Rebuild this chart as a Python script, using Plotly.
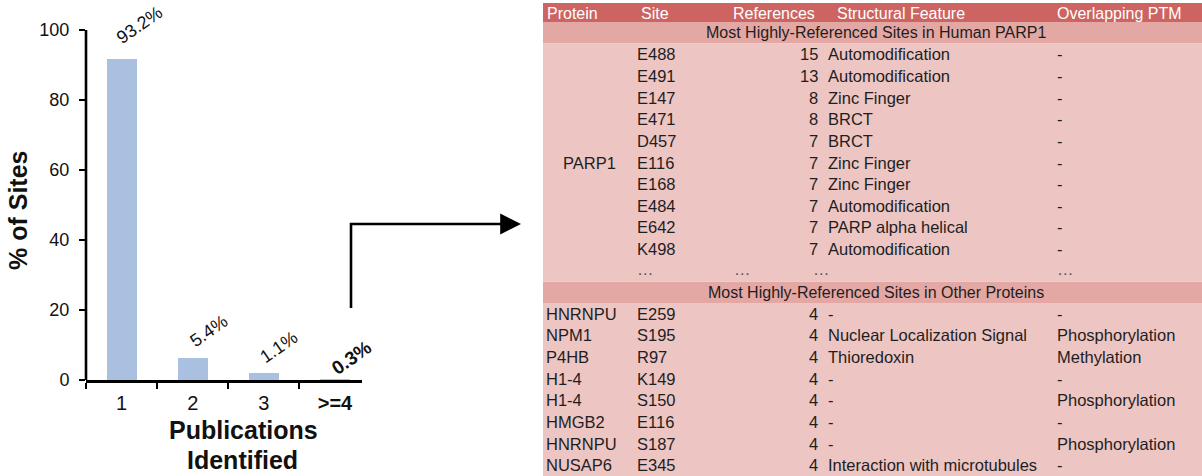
import plotly.graph_objects as go

# ---------------- data ----------------
categories = ["1", "2", "3", ">=4"]
category_ticktext = ["1", "2", "3", "<b>>=4</b>"]
pct_sites = [91.7, 6.4, 2.1, 0.3]
bar_labels = ["93.2%", "5.4%", "1.1%", "<b>0.3%</b>"]
y_ticks = [0, 20, 40, 60, 80, 100]

header = ["Protein", "Site", "References", "Structural Feature", "Overlapping PTM"]
subheader_parp1 = "Most Highly-Referenced Sites in Human PARP1"
subheader_other = "Most Highly-Referenced Sites in Other Proteins"

parp1_name = "PARP1"
parp1_sites = ["E488", "E491", "E147", "E471", "D457", "E116", "E168", "E484", "E642", "K498"]
parp1_refs = [15, 13, 8, 8, 7, 7, 7, 7, 7, 7]
parp1_features = ["Automodification", "Automodification", "Zinc Finger", "BRCT", "BRCT",
                  "Zinc Finger", "Zinc Finger", "Automodification", "PARP alpha helical",
                  "Automodification"]
parp1_ptm = ["-", "-", "-", "-", "-", "-", "-", "-", "-", "-"]
ellipsis_row = ["…", "…", "…", "…"]

other_proteins = ["HNRNPU", "NPM1", "P4HB", "H1-4", "H1-4", "HMGB2", "HNRNPU", "NUSAP6"]
other_sites = ["E259", "S195", "R97", "K149", "S150", "E116", "S187", "E345"]
other_refs = [4, 4, 4, 4, 4, 4, 4, 4]
other_features = ["-", "Nuclear Localization Signal", "Thioredoxin", "-", "-", "-", "-",
                  "Interaction with microtubules"]
other_ptm = ["-", "Phosphorylation", "Methylation", "-", "Phosphorylation", "-",
             "Phosphorylation", "-"]

# ---------------- styling ----------------
W, H = 1202, 476
FONT = "Liberation Sans, Arial, Helvetica, sans-serif"
BAR_COLOR = "#a9c0e0"
HEAD_COLOR = "#cd6461"
SUB_COLOR = "#e3a7a4"
BODY_COLOR = "#edc5c3"
TXT = "#1e1e1e"
TFS = 16.5  # table body font size
HFS = 16    # table header font size

Y_BOTTOM_PX, Y_TOP_PX = 380, 30          # pixel rows of 0 % and 100 %
Y_MAX = 100 * Y_BOTTOM_PX / (Y_BOTTOM_PX - Y_TOP_PX)  # room above 100 for labels


def px(x):
    return x / W


def py(y):
    return 1 - y / H


fig = go.Figure()

# ---------------- bar chart ----------------
fig.add_trace(go.Bar(
    x=categories, y=pct_sites, marker_color=BAR_COLOR, marker_line_width=0,
    width=0.42, xaxis="x", yaxis="y", showlegend=False, hoverinfo="skip"))

label_shift_x = [18, 16, 15, 17]
label_shift_y = [34, 27, 26, 21]
for i, (val, lab) in enumerate(zip(pct_sites, bar_labels)):
    big = i == len(pct_sites) - 1
    fig.add_annotation(x=i, y=val, xref="x", yref="y", text=lab, showarrow=False,
                       textangle=-35, xanchor="center", yanchor="middle",
                       xshift=label_shift_x[i], yshift=label_shift_y[i],
                       font=dict(family=FONT, size=19 if big else 18, color="#111"))

# y axis line only from 0 to 100
fig.add_shape(type="line", xref="paper", yref="y", x0=px(86), x1=px(86),
              y0=0, y1=max(y_ticks), line=dict(color="black", width=2.6))

# axis titles
fig.add_annotation(x=px(18), y=py(211), xref="paper", yref="paper", text="<b>% of Sites</b>",
                   textangle=-90, showarrow=False, xanchor="center", yanchor="middle",
                   font=dict(family=FONT, size=25, color="#111"))
fig.add_annotation(x=px(244), y=py(430), xref="paper", yref="paper", text="<b>Publications</b>",
                   showarrow=False, xanchor="center", yanchor="middle",
                   font=dict(family=FONT, size=25, color="#111"))
fig.add_annotation(x=px(243), y=py(460), xref="paper", yref="paper", text="<b>Identified</b>",
                   showarrow=False, xanchor="center", yanchor="middle",
                   font=dict(family=FONT, size=25, color="#111"))

# arrow from chart to table
fig.add_shape(type="line", xref="paper", yref="paper", x0=px(351), x1=px(351),
              y0=py(308), y1=py(222.8), line=dict(color="black", width=2.6))
fig.add_annotation(x=px(521), y=py(224), xref="paper", yref="paper", text="",
                   showarrow=True, ax=-171, ay=0, axref="pixel", ayref="pixel",
                   arrowhead=2, arrowsize=1.6, arrowwidth=2.6, arrowcolor="black", standoff=0)

# ---------------- table ----------------
HEADER_TOP, HEADER_BOTTOM, ROW_H = 3, 22, 21.62


def row_top(k):
    return HEADER_BOTTOM + (k - 1) * ROW_H


def row_mid(k):
    return row_top(k) + ROW_H / 2


X0, X1 = 543, 1202

fig.add_shape(type="rect", xref="x2", yref="y2", x0=X0, x1=X1, y0=HEADER_TOP, y1=HEADER_BOTTOM,
              fillcolor=HEAD_COLOR, line_width=0, layer="below")
n_parp = len(parp1_sites)
k_sub1 = 1
k_parp = list(range(2, 2 + n_parp))
k_ell = 2 + n_parp
k_sub2 = k_ell + 1
k_other = list(range(k_sub2 + 1, k_sub2 + 1 + len(other_sites)))
for k in (k_sub1, k_sub2):
    fig.add_shape(type="rect", xref="x2", yref="y2", x0=X0, x1=X1, y0=row_top(k),
                  y1=row_top(k + 1), fillcolor=SUB_COLOR, line_width=0, layer="below")
fig.add_shape(type="rect", xref="x2", yref="y2", x0=X0, x1=X1, y0=row_top(k_parp[0]),
              y1=row_top(k_ell + 1), fillcolor=BODY_COLOR, line_width=0, layer="below")
fig.add_shape(type="rect", xref="x2", yref="y2", x0=X0, x1=X1, y0=row_top(k_other[0]),
              y1=row_top(k_other[-1] + 1), fillcolor=BODY_COLOR, line_width=0, layer="below")


def cell(x, y, text, anchor="left", color=TXT, size=TFS):
    fig.add_annotation(x=x, y=y, xref="x2", yref="y2", text=text, showarrow=False,
                       xanchor=anchor, yanchor="middle", borderpad=0,
                       font=dict(family=FONT, size=size, color=color))


hy = (HEADER_TOP + HEADER_BOTTOM) / 2 + 0.5
head_pos = [(546, "left"), (640, "left"), (816, "right"), (836, "left"), (1056, "left")]
for (x, a), t in zip(head_pos, header):
    cell(x, hy, t, a, color="white", size=HFS)

cell(876, row_mid(k_sub1), subheader_parp1, "center", size=HFS)
cell(876, row_mid(k_sub2), subheader_other, "center", size=HFS)

XP, XS, XR, XF, XM = 545, 636, 819, 827, 1056

cell(589, (row_top(k_parp[0]) + row_top(k_ell + 1)) / 2, parp1_name, "center")
for k, s, r, f, m in zip(k_parp, parp1_sites, parp1_refs, parp1_features, parp1_ptm):
    y = row_mid(k)
    cell(XS, y, s)
    cell(XR, y, str(r), "right")
    cell(XF, y, f)
    cell(XM, y, m)

ell_x = [XS, 733, 812, XM]
for x, t in zip(ell_x, ellipsis_row):
    cell(x, row_mid(k_ell) - 2, t, color="#555")

for k, p, s, r, f, m in zip(k_other, other_proteins, other_sites, other_refs,
                            other_features, other_ptm):
    y = row_mid(k)
    cell(XP, y, p)
    cell(XS, y, s)
    cell(XR, y, str(r), "right")
    cell(XF, y, f)
    cell(XM, y, m)

# ---------------- layout ----------------
fig.update_layout(
    width=W, height=H,
    margin=dict(l=0, r=0, t=0, b=0, autoexpand=False),
    paper_bgcolor="white", plot_bgcolor="rgba(0,0,0,0)",
    showlegend=False,
    bargap=0,
    xaxis=dict(domain=[px(86), px(362)], type="category", range=[-0.5, 3.38],
               tickmode="array", tickvals=categories, ticktext=category_ticktext,
               tickson="boundaries", ticks="outside", ticklen=6, tickwidth=2,
               tickcolor="black", showline=True, linecolor="black", linewidth=2.6,
               showgrid=False, zeroline=False, ticklabelstandoff=3, automargin=False,
               tickfont=dict(family=FONT, size=20, color="#111"), anchor="y", fixedrange=True),
    yaxis=dict(domain=[py(Y_BOTTOM_PX), 1], range=[0, Y_MAX], tickvals=y_ticks,
               ticks="outside", ticklen=6, tickwidth=2, tickcolor="black",
               showline=False, showgrid=False,
               zeroline=False, ticklabelstandoff=6, automargin=False,
               tickfont=dict(family=FONT, size=18, color="#111"), anchor="x", fixedrange=True),
    xaxis2=dict(domain=[px(X0), 1], range=[X0, X1], visible=False, anchor="y2", fixedrange=True),
    yaxis2=dict(domain=[0, 1], range=[H, 0], visible=False, anchor="x2", fixedrange=True),
)

# remove the default 8px page margin so the figure sits at the window's corner
fig.write_html("out.html", config={"displayModeBar": False, "staticPlot": True},
               post_script="document.body.style.margin='0';")
